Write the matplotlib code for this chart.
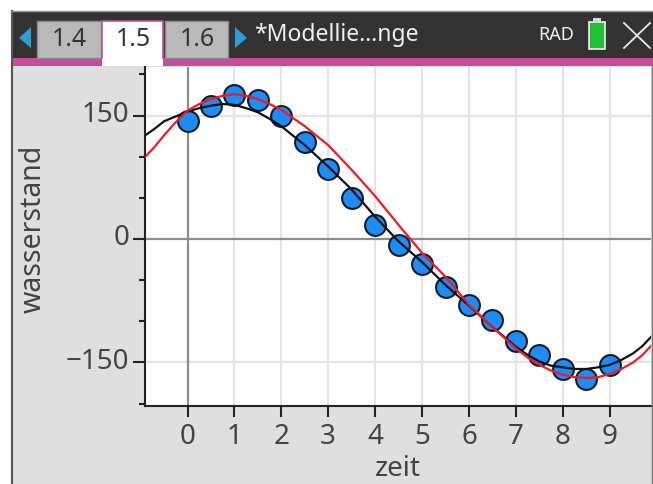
import numpy as np
import matplotlib
matplotlib.use("Agg")
import matplotlib.pyplot as plt
from matplotlib.patches import Rectangle, Polygon
from matplotlib.transforms import ScaledTranslation

plt.rcParams['font.family'] = ['Noto Sans', 'DejaVu Sans']

W, H = 653, 484

# measured points
zeit = [0, 0.5, 1, 1.5, 2, 2.5, 3, 3.5, 4, 4.5, 5, 5.5, 6, 6.5, 7, 7.5, 8, 8.5, 9]
wasserstand = [143, 161, 175, 169, 149, 118, 85, 50, 17, -7, -31, -58, -80, -99, -124, -141, -158, -170, -153]

# curves
curve_x = [-0.9, -0.7, -0.5, -0.25, 0, 0.25, 0.5, 0.75, 1, 1.25, 1.5, 1.75, 2, 2.5, 3, 3.5, 4, 4.5, 5, 5.5, 6,
           6.5, 6.75, 7, 7.25, 7.5, 7.75, 8, 8.25, 8.5, 8.75, 9, 9.25, 9.5, 9.7, 9.88]
black_y = [126, 134, 143, 149, 155, 159, 162, 164, 163, 159, 154, 146, 137, 114, 88, 60, 27, -3, -28, -56, -81,
           -107, -119, -131, -141, -149, -154, -156, -158, -158, -156, -153, -147, -139, -130, -119]
red_y = [100, 112, 126, 142, 156, 164, 170, 174, 176, 174, 170, 164, 157, 137, 114, 84, 52, 17, -17, -46, -80,
         -107, -120, -133, -144, -153, -160, -165, -168, -169, -168, -164, -158, -150, -141, -130]

x_ticks = [0, 1, 2, 3, 4, 5, 6, 7, 8, 9]
y_major = [-150, 0, 150]
y_minor = [-200, -100, -50, 50, 100, 200]
tabs = ['1.4', '1.5', '1.6']


def axes_from_pixels(fig, left, top, right, bottom):
    return fig.add_axes([left / W, 1 - bottom / H, (right - left) / W, (bottom - top) / H])


def draw_chrome(fig):
    ov = fig.add_axes([0, 0, 1, 1], zorder=5)
    ov.set_xlim(0, W)
    ov.set_ylim(H, 0)
    ov.axis('off')
    ov.patch.set_alpha(0)
    # header
    ov.add_patch(Rectangle((12, 11), W - 12, 47, color='#333333', lw=0))
    ov.add_patch(Rectangle((12, 58), W - 12, 8, color='#c44e9c', lw=0))
    # tabs
    ov.add_patch(Rectangle((37, 21), 64, 37, fc='#b9b9b9', ec='#8a8a8a', lw=1))
    ov.add_patch(Rectangle((165, 21), 63, 37, fc='#b9b9b9', ec='#8a8a8a', lw=1))
    ov.add_patch(Rectangle((102, 21), 61, 45, fc='white', ec='none'))
    ov.plot([102, 102, 163, 163], [58, 21, 21, 58], color='#c44e9c', lw=1.2)
    for t, cx in zip(tabs, [69, 133, 197]):
        ov.text(cx, 39, t, ha='center', va='center', fontsize=18, color='#333333')
    # arrows
    ov.add_patch(Polygon([[31, 27], [31, 48], [19, 38]], color='#2a9fd6', lw=0))
    ov.add_patch(Polygon([[235, 27], [235, 48], [247, 38]], color='#2a9fd6', lw=0))
    ov.text(254, 35, '*Modellie…nge', ha='left', va='center', fontsize=16.5, color='#f0f0f0')
    ov.text(538, 35, 'RAD', ha='left', va='center', fontsize=13, color='#f0f0f0')
    # battery
    ov.add_patch(Rectangle((589, 22), 16, 27, fc='#1fc234', ec='#f0f0f0', lw=1.2))
    ov.add_patch(Rectangle((593, 18), 8, 4, fc='#d8d8d8', ec='none'))
    # close
    ov.plot([624, 650], [23, 48], color='#e8e8e8', lw=1.3)
    ov.plot([624, 650], [48, 23], color='#e8e8e8', lw=1.3)
    # frame
    ov.plot([12, 12], [11, H], color='#555555', lw=1.5)
    ov.plot([12, W], [11, 11], color='#999999', lw=1)
    ov.plot([652, 652], [66, H], color='#777777', lw=1)


def main():
    fig = plt.figure(figsize=(W / 100, H / 100), dpi=100, facecolor='white')
    bg = fig.add_axes([0, 0, 1, 1], zorder=-1)
    bg.set_xlim(0, W)
    bg.set_ylim(H, 0)
    bg.axis('off')
    bg.add_patch(Rectangle((13, 60), W - 13, H - 60, color='#dfdfdf', lw=0))

    ax = axes_from_pixels(fig, 145, 67, 651, 406)
    ax.set_xlim(-0.906, 9.88)
    ax.set_ylim(-203, 209)
    ax.set_facecolor('white')

    for x in x_ticks[1:]:
        ax.axvline(x, color='#e4e4e4', lw=1.6, zorder=1)
    for y in (-150, 150):
        ax.axhline(y, color='#e4e4e4', lw=1.6, zorder=1)
    ax.axvline(0, color='#8c8c8c', lw=1.6, zorder=1.5)
    ax.axhline(0, color='#8c8c8c', lw=1.6, zorder=1.5)

    ax.plot(zeit, wasserstand, 'o', ms=15, mfc='#1e8cf5', mec='#0c1c2c', mew=1.5, zorder=3, clip_on=False)
    ax.plot(curve_x, black_y, color='#111111', lw=1.6, zorder=4, solid_joinstyle='round')
    ax.plot(curve_x, red_y, color='#f01c24', lw=1.6, zorder=5, solid_joinstyle='round')

    for s in ('top', 'right'):
        ax.spines[s].set_visible(False)
    for s in ('left', 'bottom'):
        ax.spines[s].set_linewidth(1.5)
        ax.spines[s].set_color('#222222')

    ax.set_xticks(x_ticks)
    ax.set_yticks(y_major)
    ax.set_yticks(y_minor, minor=True)
    ax.tick_params(axis='x', length=8, width=1.5, labelsize=20, pad=4.5, labelcolor='#444444', color='#222222')
    ax.tick_params(axis='y', which='major', length=8.5, width=1.5, labelsize=20, pad=3, labelcolor='#444444', color='#222222')
    ax.tick_params(axis='y', which='minor', length=4, width=1.5, color='#222222')
    # y labels sit a little above their ticks on the screen
    lift = ScaledTranslation(0, 4 / 100, fig.dpi_scale_trans)
    for lab in ax.get_yticklabels():
        lab.set_transform(lab.get_transform() + lift)

    fig.text(398 / W, 1 - 469 / H, 'zeit', ha='center', va='center', fontsize=20, color='#444444')
    fig.text(33 / W, 1 - 229 / H, 'wasserstand', ha='center', va='center', rotation=90, fontsize=20.5, color='#444444')

    draw_chrome(fig)
    fig.savefig('out.png', dpi=100)


if __name__ == "__main__":
    main()
